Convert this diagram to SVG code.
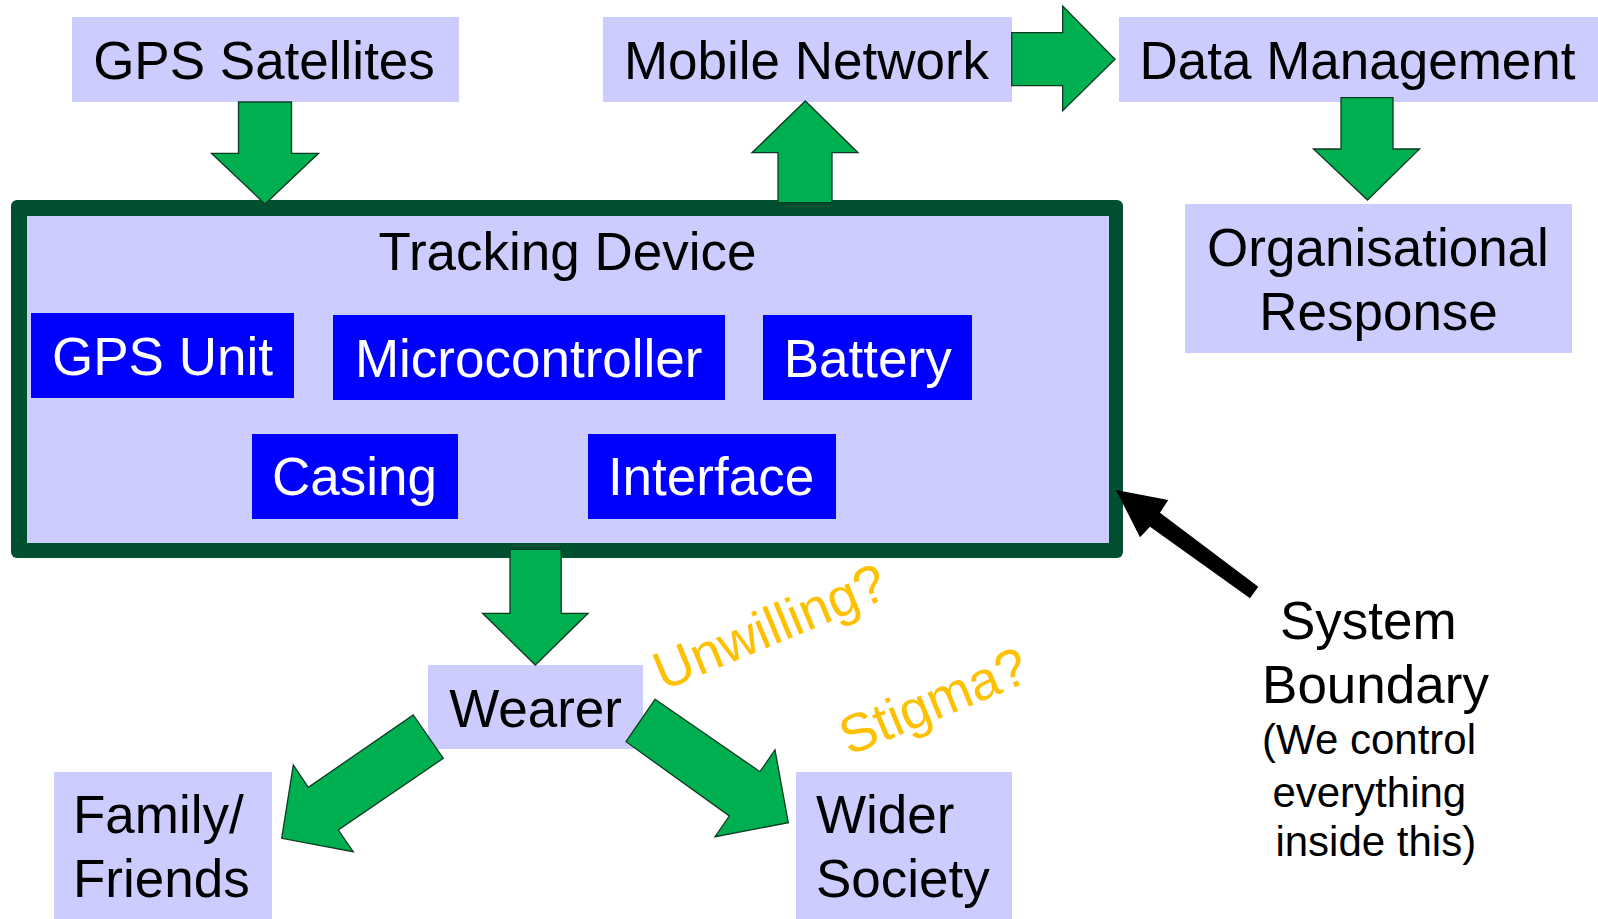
<svg xmlns="http://www.w3.org/2000/svg" width="1598" height="919" viewBox="0 0 1598 919">
<style>
.box{fill:#ccccff}
.blue{fill:#0000ff}
.t{font-family:"Liberation Sans",Arial,sans-serif;font-size:53px;fill:#000}
.tm{text-anchor:middle}
.w{fill:#fff}
.s{font-size:42px}
.o{fill:#ffc000;font-size:54px}
.g{fill:#00b050;stroke:#0d3a22;stroke-width:1.3;stroke-linejoin:miter}
</style>
<rect width="1598" height="919" fill="#fff"/>
<g id="gps-satellites"><rect class="box" x="72" y="17" width="387" height="85"/><text class="t tm" x="264" y="79">GPS Satellites</text></g>
<g id="mobile-network"><rect class="box" x="603" y="17" width="409" height="85"/><text class="t tm" x="806.5" y="78.5">Mobile Network</text></g>
<g id="data-management"><rect class="box" x="1119" y="17" width="479" height="85"/><text class="t tm" x="1357.5" y="78.5">Data Management</text></g>
<g id="organisational-response"><rect class="box" x="1185" y="204" width="387" height="149"/><text class="t tm" x="1378" y="266">Organisational</text><text class="t tm" x="1378.5" y="330">Response</text></g>
<g id="tracking-device">
<rect x="11" y="200" width="1112" height="358" rx="6" fill="#00502f"/>
<rect class="box" x="27" y="216" width="1082" height="327"/>
<text class="t tm" x="567.5" y="269.5">Tracking Device</text>
</g>
<g id="gps-unit"><rect class="blue" x="31" y="313" width="263" height="85"/><text class="t tm w" x="162.5" y="374.5">GPS Unit</text></g>
<g id="microcontroller"><rect class="blue" x="333" y="315" width="392" height="85"/><text class="t tm w" x="528.7" y="376.7">Microcontroller</text></g>
<g id="battery"><rect class="blue" x="763" y="315" width="209" height="85"/><text class="t tm w" x="867.7" y="376.7">Battery</text></g>
<g id="casing"><rect class="blue" x="252" y="434" width="206" height="85"/><text class="t tm w" x="354.5" y="495">Casing</text></g>
<g id="interface"><rect class="blue" x="588" y="434" width="248" height="85"/><text class="t tm w" x="711" y="495">Interface</text></g>
<g id="wearer"><rect class="box" x="428" y="665" width="215" height="84"/><text class="t tm" x="535.6" y="726.7">Wearer</text></g>
<g id="family-friends"><rect class="box" x="54" y="772" width="218" height="147"/><text class="t" x="73" y="833.3">Family/</text><text class="t" x="73" y="896.7">Friends</text></g>
<g id="wider-society"><rect class="box" x="796" y="772" width="216" height="147"/><text class="t" x="816" y="832.7">Wider</text><text class="t" x="816" y="896.7">Society</text></g>
<g id="system-boundary">
<text class="t tm" x="1368.3" y="639">System</text>
<text class="t tm" x="1375.5" y="702.7">Boundary</text>
<text class="t tm s" x="1369" y="754.3">(We control</text>
<text class="t tm s" x="1369.3" y="806.7">everything</text>
<text class="t tm s" x="1375.8" y="856">inside this)</text>
</g>
<g id="labels">
<text class="t o" transform="translate(663 691) rotate(-22.5)">Unwilling?</text>
<text class="t o" transform="translate(849 756) rotate(-22.5)">Stigma?</text>
</g>
<g id="connectors">
<polygon class="g" points="238.5,102 291.5,102 291.5,153.3 318.5,153.3 265,204 211.5,153.3 238.5,153.3"/>
<polygon class="g" points="778,202.7 778,152.7 752,152.7 805.3,101 858,152.7 832,152.7 832,202.7"/>
<polygon class="g" points="1011.7,32.7 1062.7,32.7 1062.7,6 1115,59.3 1062.7,110.7 1062.7,85.7 1011.7,85.7"/>
<polygon class="g" points="1341,97.7 1393,97.7 1393,149 1419.5,149 1367.5,200 1313.5,149 1341,149"/>
<polygon class="g" points="510,549.3 561.2,549.3 561.2,613.3 588,613.3 535.3,665 482.6,613.3 510,613.3"/>
<polygon class="g" points="413.3,715 443.3,758.3 338.3,830 353.3,851.7 281.7,838.3 293.3,765 308.3,787.3"/>
<polygon class="g" points="655,699.3 760,771.7 775,750 788.3,822.7 715,836.7 729.3,816 626,741.7"/>
<polygon fill="#000" points="1116,490 1168.3,500 1160,512.7 1258.3,586.7 1250,598.3 1150,526.7 1140,537.3"/>
</g>
</svg>
